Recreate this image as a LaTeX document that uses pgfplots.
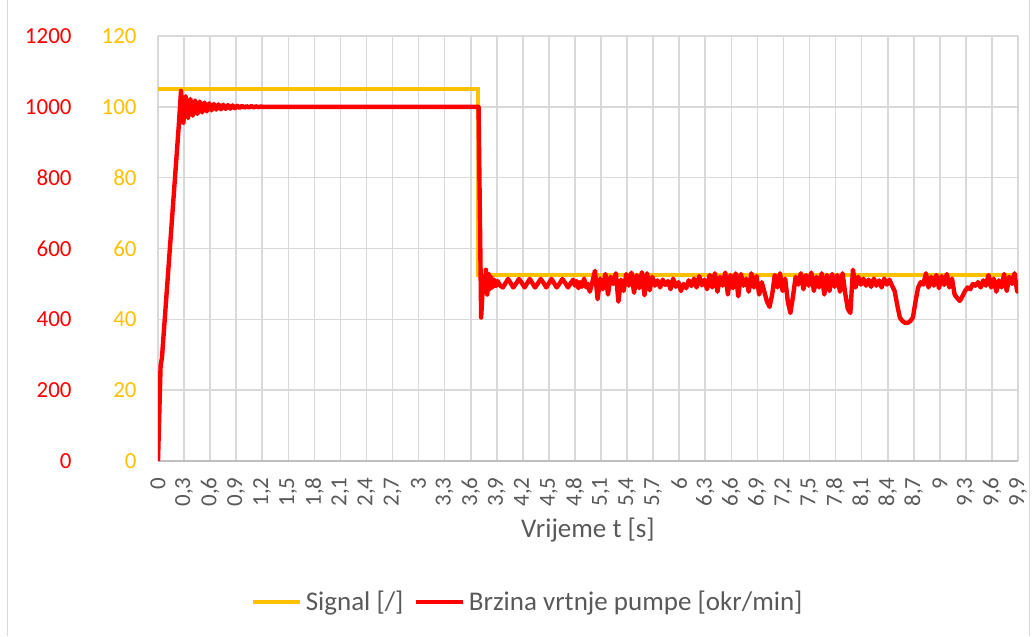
\documentclass[border=0pt]{standalone}
\usepackage{fontspec}
\setmainfont{Carlito}
\usepackage{pgfplots}
\pgfplotsset{compat=1.18}

\definecolor{sigyellow}{HTML}{FFC000}
\definecolor{pumpred}{HTML}{FF0000}
\definecolor{gridgray}{HTML}{D9D9D9}
\definecolor{axisgray}{HTML}{BFBFBF}
\definecolor{labelgray}{HTML}{595959}

\pgfplotsset{
  base/.style={
    scale only axis, width=430pt, height=212.5pt,
    at={(79pt,87.5pt)}, anchor=south west,
    xmin=0, xmax=9.9,
    major tick length=0pt,
    tick label style={font=\fontsize{11.5}{12}\selectfont},
  },
}

\begin{document}
\begin{tikzpicture}
\useasboundingbox (0,0) rectangle (518pt,318pt);
\draw[gridgray] (3.5pt,0) -- (3.5pt,318pt);
\draw[gridgray] (514.5pt,0) -- (514.5pt,318pt);

% signal axis (right scale 0-120), carries the grid
\begin{axis}[base,
  ymin=0, ymax=120,
  ytick={0,20,40,60,80,100,120},
  yticklabels={0,20,40,60,80,100,120},
  yticklabel style={color=sigyellow, anchor=east, inner sep=0pt},
  yticklabel shift=10.5pt,
  xtick={0,0.3,0.6,0.9,1.2,1.5,1.8,2.1,2.4,2.7,3,3.3,3.6,3.9,4.2,4.5,4.8,5.1,5.4,5.7,6,6.3,6.6,6.9,7.2,7.5,7.8,8.1,8.4,8.7,9,9.3,9.6,9.9},
  xticklabels={0,{0,3},{0,6},{0,9},{1,2},{1,5},{1,8},{2,1},{2,4},{2,7},3,{3,3},{3,6},{3,9},{4,2},{4,5},{4,8},{5,1},{5,4},{5,7},6,{6,3},{6,6},{6,9},{7,2},{7,5},{7,8},{8,1},{8,4},{8,7},9,{9,3},{9,6},{9,9}},
  xticklabel style={color=labelgray, rotate=90, anchor=east, inner sep=0pt},
  xticklabel shift=8pt,
  xmajorgrids, ymajorgrids,
  grid style={gridgray, line width=0.8pt},
  axis x line*=bottom, axis y line*=left,
  x axis line style={axisgray, line width=1pt, -},
  y axis line style={gridgray, line width=0.8pt, -},
  xlabel={Vrijeme t [s]},
  xlabel style={at={(axis description cs:0.5,-0.162)}, anchor=center,
    color=labelgray, font=\fontsize{13.5}{16}\selectfont},
]
\addplot[sigyellow, line width=2pt] coordinates {
  (0,105) (3.68,105) (3.68,52.5) (9.9,52.5)
};
\end{axis}

% pump speed axis (left scale 0-1200)
\begin{axis}[base,
  ymin=0, ymax=1200,
  xtick=\empty,
  ytick={0,200,400,600,800,1000,1200},
  yticklabels={0,200,400,600,800,1000,1200},
  yticklabel style={color=pumpred, anchor=east, inner sep=0pt},
  yticklabel shift=43pt,
  axis line style={draw=none},
  legend columns=2,
  legend style={at={(axis description cs:0.431,-0.332)}, anchor=center,
    draw=none, fill=none, text=labelgray,
    font=\fontsize{13.5}{15}\selectfont,
    /tikz/every even column/.append style={column sep=3pt}},
  legend image code/.code={\draw[#1] (0pt,0pt) -- (23.5pt,0pt);},
]
\addlegendimage{sigyellow, line width=2pt}
\addlegendentry{Signal [/]}
\addplot[pumpred, line width=2.2pt, line join=round] coordinates {
  (0,0) (0.03,270) (0.045,290) (0.24,950) (0.265,1045)
  (0.292,955) (0.319,1030) (0.346,968) (0.373,1022) (0.4,975)
  (0.427,1018) (0.454,980) (0.481,1015) (0.508,984) (0.535,1012)
  (0.562,987) (0.589,1010) (0.616,990) (0.643,1008) (0.67,992)
  (0.697,1007) (0.724,993) (0.751,1006) (0.778,994) (0.805,1005)
  (0.832,995) (0.859,1004) (0.886,996) (0.913,1003) (0.94,997)
  (0.967,1003) (0.994,997.5) (1.021,1002) (1.048,998) (1.075,1002)
  (1.102,998.5) (1.129,1001.5) (1.156,999) (1.183,1001) (1.21,1000)
  (3.69,1000) (3.705,700) (3.72,405) (3.745,520) (3.76,480)
  (3.775,540) (3.79,470) (3.805,528) (3.82,485) (3.835,520)
  (3.85,490) (3.87,512) (3.89,494) (3.91,508) (3.94,495)
  (3.97,490) (4.00,502) (4.03,514) (4.06,502) (4.09,490)
  (4.125,502) (4.155,514) (4.19,502) (4.22,490) (4.25,502)
  (4.28,514) (4.31,502) (4.34,490) (4.375,502) (4.405,514)
  (4.44,502) (4.47,490) (4.50,502) (4.53,514) (4.56,502)
  (4.59,490) (4.625,502) (4.655,514) (4.69,502) (4.72,490)
  (4.75,502) (4.78,512) (4.80,495) (4.82,508) (4.84,488)
  (4.86,505) (4.88,492) (4.905,515) (4.93,490) (4.95,500)
  (4.97,478) (5.00,505) (5.03,537) (5.06,457) (5.09,515)
  (5.12,485) (5.15,528) (5.18,470) (5.21,520) (5.24,500)
  (5.27,530) (5.30,450) (5.33,512) (5.36,480) (5.39,528)
  (5.42,495) (5.45,532) (5.48,475) (5.51,525) (5.54,488)
  (5.57,533) (5.60,468) (5.63,530) (5.66,482) (5.69,520)
  (5.72,495) (5.75,510) (5.78,490) (5.81,512) (5.84,497)
  (5.87,508) (5.90,485) (5.93,515) (5.96,492) (5.99,505)
  (6.02,480) (6.05,500) (6.08,488) (6.11,510) (6.14,494)
  (6.17,515) (6.20,490) (6.23,522) (6.26,496) (6.29,512)
  (6.32,485) (6.35,525) (6.38,490) (6.41,530) (6.44,478)
  (6.47,520) (6.50,495) (6.53,532) (6.56,470) (6.59,525)
  (6.62,488) (6.65,530) (6.68,465) (6.71,528) (6.74,495)
  (6.77,515) (6.80,478) (6.83,530) (6.86,490) (6.89,522)
  (6.92,470) (6.95,505) (6.98,478) (7.01,450) (7.04,435)
  (7.07,470) (7.10,525) (7.13,490) (7.16,530) (7.19,480)
  (7.22,515) (7.25,450) (7.28,418) (7.31,465) (7.34,520)
  (7.37,498) (7.40,530) (7.43,485) (7.46,525) (7.49,495)
  (7.52,532) (7.55,480) (7.58,520) (7.61,490) (7.64,530)
  (7.67,470) (7.70,525) (7.73,480) (7.76,528) (7.79,492)
  (7.82,525) (7.85,478) (7.88,530) (7.91,475) (7.94,430)
  (7.97,418) (8.00,540) (8.03,490) (8.06,520) (8.09,498)
  (8.12,515) (8.15,495) (8.18,512) (8.21,492) (8.24,515)
  (8.27,495) (8.30,510) (8.33,490) (8.36,515) (8.39,498)
  (8.42,512) (8.45,495) (8.48,480) (8.51,440) (8.54,405)
  (8.57,395) (8.60,390) (8.63,390) (8.66,395) (8.69,405)
  (8.72,450) (8.75,490) (8.78,505) (8.81,498) (8.84,530)
  (8.87,490) (8.90,520) (8.93,495) (8.96,525) (8.99,488)
  (9.02,522) (9.05,497) (9.08,528) (9.11,490) (9.14,515)
  (9.17,470) (9.20,460) (9.23,452) (9.26,465) (9.29,480)
  (9.32,490) (9.35,485) (9.38,500) (9.41,495) (9.44,505)
  (9.47,490) (9.50,510) (9.53,495) (9.56,525) (9.59,490)
  (9.62,515) (9.65,478) (9.68,510) (9.71,490) (9.74,528)
  (9.77,480) (9.80,520) (9.83,500) (9.86,530) (9.89,478)
  (9.90,510)
};
\addlegendentry{Brzina vrtnje pumpe [okr/min]}
\end{axis}
\end{tikzpicture}
\end{document}
